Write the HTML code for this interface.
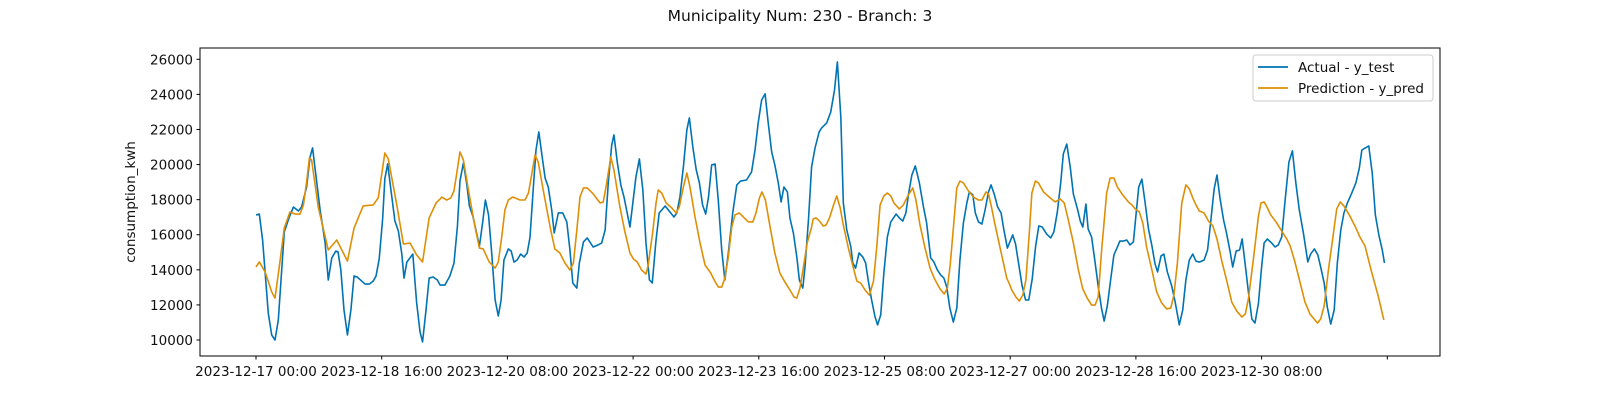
<!DOCTYPE html>
<html><head><meta charset="utf-8"><style>
html,body{margin:0;padding:0;background:#fff;width:1600px;height:400px;overflow:hidden}
svg{display:block;font-family:"DejaVu Sans","Liberation Sans",sans-serif}
</style></head><body>
<svg id="chart" width="1600" height="400" viewBox="0 0 1600 400" xmlns="http://www.w3.org/2000/svg">
<rect width="1600" height="400" fill="#fff"/>
<text x="800" y="21" text-anchor="middle" font-size="15.5" fill="#111">Municipality Num: 230 - Branch: 3</text>
<text transform="translate(135,202) rotate(-90)" text-anchor="middle" font-size="13.5" fill="#111">consumption_kwh</text>
<g id="grid"></g>
<g id="series"></g>
<rect x="200" y="48" width="1240" height="308" fill="none" stroke="#000" stroke-width="1"/>
<g id="axes"></g>
<g>
<rect x="1253" y="55" width="180" height="46" rx="3" fill="#fff" fill-opacity="0.85" stroke="#ccc"/>
<line x1="1258" y1="67" x2="1288" y2="67" stroke="#0173B2" stroke-width="1.7"/>
<text x="1298" y="72" font-size="13.5" fill="#111">Actual - y_test</text>
<line x1="1258" y1="88" x2="1288" y2="88" stroke="#DE8F05" stroke-width="1.7"/>
<text x="1298" y="93" font-size="13.5" fill="#111">Prediction - y_pred</text>
</g>
</svg>
<script>
const actualHours=[0,1.05,2.1,3.9,5.0,6.05,7.1,9.0,10.6,11.9,13.5,14.5,16.1,17.2,18.0,20.4,22.0,23.0,24.1,25.4,26.1,27.0,28.0,29.1,30.2,31.2,32.2,34.7,36.1,37.3,38.2,39.2,40.3,41.0,41.9,42.9,44.2,45.3,46.4,47.1,48.0,49.9,51.1,52.2,53.0,54.1,55.1,56.4,57.7,58.6,60.1,61.7,63.0,64.1,64.9,66.0,67.1,67.9,69.0,71.1,72.1,73.0,74.0,75.0,76.1,77.1,78.0,78.9,80.3,81.2,82.1,83.1,84.2,85.3,86.3,87.2,88.2,89.1,90.0,90.9,92.0,93.0,94.1,94.9,96.2,97.6,98.9,99.9,100.8,102.1,102.9,104.2,105.4,107.3,108.9,110.0,111.1,112.1,113.2,113.9,115.0,116.1,117.1,119.0,120.9,122.0,123.1,124.1,125.2,126.1,127.3,128.3,130.2,131.7,133.0,133.9,134.9,136.0,137.1,137.9,139.0,140.1,141.1,142.1,143.1,144.0,145.0,146.1,147.1,148.2,149.2,150.3,151.7,153.0,154.2,156.1,157.7,158.8,159.8,160.9,162.0,163.0,164.1,165.1,166.2,167.1,168.0,169.1,169.9,171.0,172.1,172.9,174.0,174.7,175.8,176.8,177.9,179.2,180.0,181.6,182.9,184.1,185.0,186.1,186.9,188.0,189.3,189.9,190.8,191.9,193.1,194.0,194.8,195.9,197.0,197.8,198.8,199.8,200.9,202.0,203.7,204.7,205.8,206.8,207.7,208.7,209.8,211.1,212.4,213.4,214.7,215.7,216.8,217.9,218.9,219.8,220.8,221.9,223.0,224.0,225.1,226.2,227.0,228.1,228.9,229.9,231.0,232.0,233.1,233.9,235.0,236.0,237.1,238.0,239.1,239.9,240.8,241.7,242.8,243.8,244.9,245.9,247.0,248.1,249.1,250.2,251.6,252.9,253.9,255.0,256.1,256.9,258.0,259.1,260.1,261.4,262.3,263.1,264.1,264.8,265.9,267.0,268.0,269.1,269.9,270.9,272.0,273.0,274.1,274.9,276.0,277.1,278.1,279.2,280.0,280.9,281.9,282.9,284.0,285.1,286.1,286.9,288.0,288.9,290.0,291.4,292.5,293.8,294.9,295.9,297.0,298.1,299.1,300.2,301.7,302.8,303.8,304.9,305.8,306.8,307.9,308.9,310.0,310.8,311.9,313.0,313.8,314.8,315.8,316.9,317.9,319.0,320.0,320.8,321.8,323.2,324.3,325.3,326.4,327.4,328.7,329.8,330.9,332.0,333.3,334.7,335.6,336.8,337.9,338.8,339.9,340.9,342.0,343.1,344.1,345.2,346.2,347.3,348.7,350.0,351.1,351.9,353.0,354.1,355.2,356.2,357.3,358.4,359.1];
const actualValues=[17125,17180,15700,11540,10285,10000,11140,16160,17010,17580,17350,17580,18720,20430,20950,17410,15530,13420,14670,15070,15020,13990,11710,10285,11710,13650,13590,13190,13190,13360,13650,14620,16900,19180,20040,18610,16780,16210,14900,13530,14440,14900,12160,10460,9890,11710,13530,13590,13420,13130,13130,13650,14380,16490,19060,20090,18840,17640,17070,15360,16670,17980,17130,14960,12280,11370,12280,14560,15190,15070,14440,14560,14900,14730,14960,15870,18550,20830,21860,20660,19230,18720,17410,16100,17240,17240,16730,15130,13250,12960,14390,15590,15820,15300,15420,15530,16270,18950,21120,21690,20090,18840,18150,16440,19290,20320,18550,15530,13420,13250,15700,17240,17640,17300,17010,17240,18150,19860,21970,22660,21010,19690,18950,17700,17180,18150,19980,20030,17980,15130,13420,14960,17240,18840,19060,19120,19580,20830,22370,23680,24030,22370,20720,19980,18950,17870,18720,18440,16960,16100,14730,13420,12960,14160,16840,19860,20950,21860,22090,22370,23000,24260,25850,22710,17810,16270,15300,14390,14100,14960,14730,14390,13420,12280,11310,10860,11430,13820,15870,16730,17180,16960,16780,17240,18380,19400,19920,18950,17580,16670,14680,14450,14000,13700,13530,13020,11820,11020,11820,14560,16670,17810,18440,18270,17240,16730,16610,17410,18440,18840,18270,17580,17240,16270,15240,15590,15990,15470,14220,13080,12280,12280,13480,15360,16500,16440,16040,15820,16160,17300,19000,20600,21170,19860,18320,17470,16780,16440,17750,16330,15870,14440,13080,11770,11080,11940,13480,14850,15300,15640,15640,15700,15420,15590,17070,18720,19170,17870,16330,15360,14330,13880,14790,14900,13880,13080,12160,10860,11710,13420,14560,14900,14500,14440,14560,15130,16730,18610,19400,18040,16840,16040,15020,14160,15070,15130,15760,14280,12740,11200,10970,12110,14160,15530,15760,15530,15300,15420,15870,17810,20150,20780,18950,17410,16100,14450,14900,15190,14850,14160,13250,11880,10910,11710,14390,16270,17240,17810,18380,18950,19800,20830,20950,21060,19520,17130,15990,15130,14390];
const predHours=[0,1.05,2.9,5.0,6.05,7.4,9.0,10.8,12.4,14.0,15.1,16.1,17.0,17.7,19.8,23.0,25.7,29.1,31.2,34.1,37.3,38.9,41.0,42.1,44.8,46.9,49.0,51.1,53.0,55.1,57.3,58.6,59.1,60.7,62.0,63.0,63.9,64.9,66.0,67.6,69.7,71.1,72.3,74.2,76.1,77.1,78.2,79.2,80.3,81.7,84.0,85.6,86.7,87.7,88.8,89.8,91.4,93.6,95.1,96.7,98.3,99.9,101.0,102.1,103.1,104.2,105.4,107.3,109.5,110.5,111.6,112.9,113.9,115.8,117.4,119.0,120.1,121.3,122.7,124.1,124.8,126.2,127.3,128.0,129.1,130.5,132.3,133.7,134.7,136.0,137.1,138.1,139.7,141.3,142.9,144.7,145.8,147.1,148.2,149.2,150.3,151.4,152.4,153.8,155.1,156.7,158.1,159.1,160.2,161.0,162.1,163.6,165.1,166.7,168.3,169.9,171.2,172.1,173.1,174.2,175.4,176.8,177.3,178.2,179.3,180.5,181.4,182.5,183.8,184.8,185.9,186.9,188.5,190.1,191.2,192.4,193.8,195.2,196.5,197.5,198.6,199.8,200.9,202.0,203.0,204.7,206.0,207.6,209.0,210.0,211.3,212.9,214.5,215.8,217.7,219.0,220.0,220.9,222.0,223.0,224.0,225.1,226.7,228.3,229.9,231.0,232.3,233.1,234.1,235.2,236.8,238.9,239.9,240.5,241.8,242.9,244.0,245.0,246.1,246.9,248.0,249.0,250.6,252.7,254.3,255.9,257.2,258.5,260.1,261.7,263.1,264.5,265.9,267.0,268.0,269.1,270.7,271.8,273.0,274.1,275.8,277.6,278.7,279.8,281.1,282.2,283.4,285.1,286.6,288.2,289.8,291.1,292.1,293.2,294.6,295.9,297.0,298.1,299.1,300.2,301.7,303.1,304.5,305.8,307.4,309.0,310.5,312.1,313.7,314.8,315.8,317.4,319.0,319.8,320.8,321.7,322.9,324.6,326.4,328.0,329.1,330.6,332.2,333.8,335.4,336.7,337.8,338.8,339.9,341.3,342.7,343.9,345.0,346.2,348.1,349.7,351.3,352.9,355.0,357.1,358.9];
const predValues=[14160,14450,13880,12740,12390,14160,16380,17300,17180,17180,17700,19000,20380,20260,17580,15130,15700,14500,16380,17640,17700,18100,20660,20320,17700,15470,15530,14850,14450,16960,17810,18040,18150,17980,18100,18500,19520,20720,20260,18550,16440,15240,15190,14450,14100,14450,15870,17410,17980,18150,17980,17980,18380,19400,20550,20150,18550,16440,15190,14960,14390,13990,14390,16270,18150,18670,18670,18330,17810,17870,18950,20430,19690,17580,16160,14960,14620,14450,13990,13760,14270,16100,17810,18550,18380,17810,17530,17240,17580,18720,19520,18720,17010,15530,14270,13820,13420,13020,13020,13530,14730,16440,17130,17240,17010,16730,16730,17240,18100,18440,17980,16440,14960,13820,13310,12850,12450,12390,12960,14160,15530,16440,16900,16960,16780,16500,16550,16960,17700,18210,17530,16550,15240,14100,13360,13250,12850,12560,13360,15240,17700,18210,18380,18210,17810,17470,17700,18270,18670,17980,16550,15240,14100,13530,12900,12620,12960,14270,16550,18670,19060,18950,18500,18150,17980,17980,18440,18330,17530,16550,15240,13530,13130,12850,12450,12220,12560,13420,16160,18380,19060,18950,18440,18100,17870,18040,17810,16840,15530,13990,12910,12390,11990,11990,12450,15130,18380,19230,19230,18720,18270,17870,17700,17470,17300,16670,15300,13990,12740,12110,11770,11820,12560,14390,17810,18840,18610,18100,17700,17350,17240,16780,16500,15760,14450,13310,12160,11650,11310,11480,12340,14620,17070,17810,17870,17580,17130,16730,16210,15760,15360,14450,13310,12160,11480,11200,10970,11200,11940,14050,15870,17470,17870,17640,17070,16500,15870,15360,13880,12510,11140];
const yTicks=[10000,12000,14000,16000,18000,20000,22000,24000,26000];
const xTickHours=[0,40,80,120,160,200,240,280,320,360];
const xTickLabels=["2023-12-17 00:00","2023-12-18 16:00","2023-12-20 08:00","2023-12-22 00:00","2023-12-23 16:00","2023-12-25 08:00","2023-12-27 00:00","2023-12-28 16:00","2023-12-30 08:00",""];

const NS="http://www.w3.org/2000/svg";
function xScale(h){return 256+h*(1387.3-256)/360;}
function yScale(v){return 340-(v-10000)*(340-59.3)/16000;}
const axes=document.getElementById('axes');
const series=document.getElementById('series');
function mk(tag,attrs,parent){const e=document.createElementNS(NS,tag);for(const k in attrs)e.setAttribute(k,attrs[k]);parent.appendChild(e);return e;}
yTicks.forEach(v=>{
  const y=yScale(v);
  const t=mk('line',{x1:196.5,x2:200,y1:y,y2:y,stroke:'#000','stroke-width':1},axes);
  
  
  const l=mk('text',{x:193,y:y+5,'text-anchor':'end','font-size':13.5,fill:'#111'},axes);
  
  
  l.textContent=v;
});
xTickHours.forEach((h,i)=>{
  const x=xScale(h);
  const t=mk('line',{x1:x,x2:x,y1:356,y2:359.5,stroke:'#000','stroke-width':1},axes);
  
  
  const l=mk('text',{x:x,y:376,'text-anchor':'middle','font-size':13.5,fill:'#111'},axes);
  
  
  l.textContent=xTickLabels[i];
});
function drawLine(hours,vals,color,name){
  const d=hours.map((h,i)=>(i?'L':'M')+xScale(h).toFixed(2)+' '+yScale(vals[i]).toFixed(2)).join(' ');
  const p=mk('path',{d:d,fill:'none',stroke:color,'stroke-width':1.6,'stroke-linejoin':'round'},series);
  
  
}
drawLine(actualHours,actualValues,'#0173B2','actual-line');
drawLine(predHours,predValues,'#DE8F05','prediction-line');
</script>
</body></html>
